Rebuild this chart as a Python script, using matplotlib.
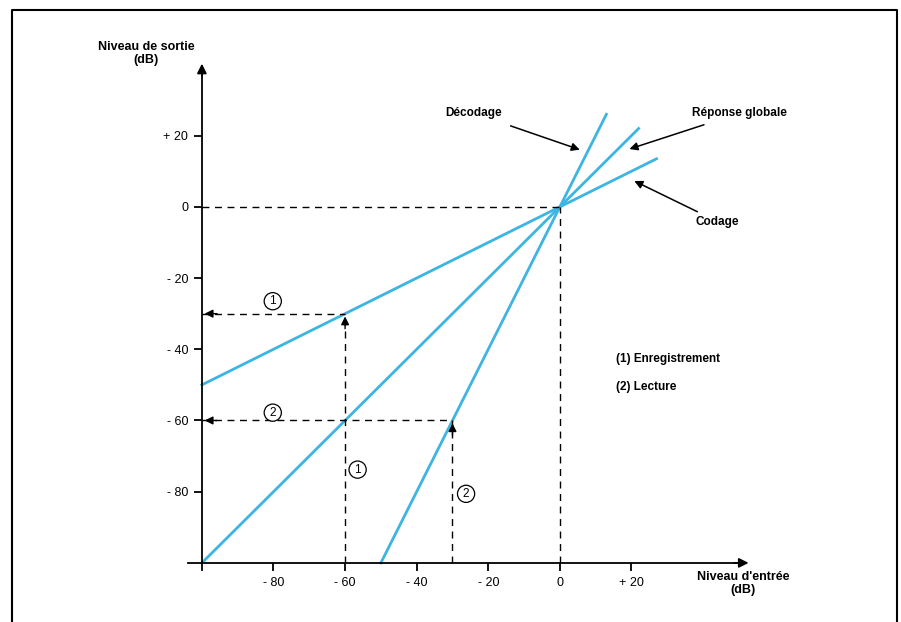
import numpy as np
import matplotlib.pyplot as plt
from matplotlib.lines import Line2D

plt.rcParams['font.family'] = ['Liberation Sans', 'DejaVu Sans']

# ----------------------------
# data (dB)
codage_x = [-100, 27]
codage_y = [-50, 13.5]
globale_x = [-100, 22]
globale_y = [-100, 22]
decodage_x = [-50, 13]
decodage_y = [-100, 26]

xticks = [-80, -60, -40, -20, 0, 20]
xlabels = ['- 80', '- 60', '- 40', '- 20', '0', '+ 20']
yticks = [20, 0, -20, -40, -60, -80]
ylabels = ['+ 20', '0', '- 20', '- 40', '- 60', '- 80']

# (input, output) examples: 1 = enregistrement, 2 = lecture
ex_in = [-60, -30]
ex_out = [-30, -60]

BLUE = '#3db5e2'

fig = plt.figure(figsize=(9.01, 6.22), dpi=100)
ax = fig.add_axes([0, 0, 1, 1])
ax.set_xlim(-156.4, 95.3)
ax.set_ylim(-116.6, 58.1)

# axes as spines through (-100, -100)
for s in ['top', 'right']:
    ax.spines[s].set_visible(False)
ax.spines['left'].set_position(('data', -100))
ax.spines['bottom'].set_position(('data', -100))
ax.spines['left'].set_bounds(-102, 38)
ax.spines['bottom'].set_bounds(-104, 50)
for s in ['left', 'bottom']:
    ax.spines[s].set_linewidth(1.3)
ax.patch.set_visible(False)

ax.set_xticks(xticks)
ax.set_xticklabels(xlabels)
ax.set_yticks(yticks)
ax.set_yticklabels(ylabels)
ax.tick_params(direction='out', length=6, width=1.3, labelsize=9, pad=4)

# arrow heads of the axes
ax.annotate('', xy=(-100, 41), xytext=(-100, 36),
            arrowprops=dict(arrowstyle='-|>', color='black', lw=1.3,
                            mutation_scale=14), annotation_clip=False)
ax.annotate('', xy=(53.5, -100), xytext=(48, -100),
            arrowprops=dict(arrowstyle='-|>', color='black', lw=1.3,
                            mutation_scale=14), annotation_clip=False)

ax.text(-115.5, 43, 'Niveau de sortie\n(dB)', ha='center', va='center',
        fontsize=9, fontweight='bold', linespacing=1.15)
ax.text(51.3, -102.3, "Niveau d'entrée\n(dB)", ha='center', va='top',
        fontsize=9, fontweight='bold', linespacing=1.15)

# the three characteristics
ax.plot(codage_x, codage_y, color=BLUE, lw=2)
ax.plot(globale_x, globale_y, color=BLUE, lw=2)
ax.plot(decodage_x, decodage_y, color=BLUE, lw=2)

# dashed construction lines
dash = dict(color='black', lw=1, ls=(0, (5, 4)))
ax.plot([-100, 0], [0, 0], **dash)
ax.plot([0, 0], [-100, 0], **dash)
for xi, yo in zip(ex_in, ex_out):
    ax.plot([-100, xi], [yo, yo], **dash)
    ax.plot([xi, xi], [-100, yo], **dash)
    ax.annotate('', xy=(-100, yo), xytext=(-95, yo),
                arrowprops=dict(arrowstyle='-|>', color='black', lw=1,
                                mutation_scale=12))
    ax.annotate('', xy=(xi, yo), xytext=(xi, yo - 5),
                arrowprops=dict(arrowstyle='-|>', color='black', lw=1,
                                mutation_scale=12))

circ = dict(boxstyle='circle,pad=0.22', fc='white', ec='black', lw=0.9)
ax.text(-80.2, -26.5, '1', ha='center', va='center', fontsize=8.5, bbox=circ)
ax.text(-80.2, -57.8, '2', ha='center', va='center', fontsize=8.5, bbox=circ)
ax.text(-56.5, -73.8, '1', ha='center', va='center', fontsize=8.5, bbox=circ)
ax.text(-26.2, -80.6, '2', ha='center', va='center', fontsize=8.5, bbox=circ)

# labels with pointers
lab = dict(fontsize=8.5, fontweight='bold', ha='center', va='center')
ax.text(-24, 26.4, 'Décodage', **lab)
ax.text(50.3, 26.4, 'Réponse globale', **lab)
ax.text(44.1, -4.2, 'Codage', **lab)
arr = dict(arrowstyle='-|>', color='black', lw=1.1, mutation_scale=12)
ax.annotate('', xy=(6.3, 15.8), xytext=(-14.5, 23), arrowprops=arr)
ax.annotate('', xy=(18.7, 16), xytext=(41, 23.3), arrowprops=arr)
ax.annotate('', xy=(20.1, 7.6), xytext=(39.1, -1.7), arrowprops=arr)

ax.text(15.6, -42.7, '(1) Enregistrement', fontsize=8.5, fontweight='bold',
        ha='left', va='center')
ax.text(15.6, -50.6, '(2) Lecture', fontsize=8.5, fontweight='bold',
        ha='left', va='center')

# page frame (open at the bottom)
fx = [12 / 901, 12 / 901, 897 / 901, 897 / 901]
fy = [0, 1 - 10 / 622, 1 - 10 / 622, 0]
fig.add_artist(Line2D(fx, fy, color='black', lw=1.5))

fig.savefig('out.png', dpi=100)
